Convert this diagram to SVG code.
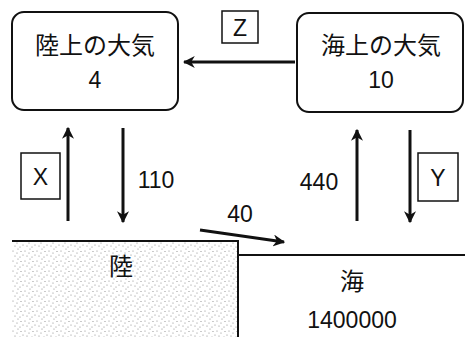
<svg xmlns="http://www.w3.org/2000/svg" width="465" height="337" viewBox="0 0 465 337">
<style>
.t{font-family:"Liberation Sans","Noto Sans CJK JP",sans-serif;fill:#111;text-anchor:middle}
.box{fill:#fff;stroke:#111;stroke-width:2}
.lab{fill:#fff;stroke:#111;stroke-width:1.5}
.arr{stroke:#111;stroke-width:3;fill:none;marker-end:url(#ah)}
.edge{stroke:#111;stroke-width:2;fill:none}
</style>
<defs>
<marker id="ah" viewBox="0 0 10 10" refX="9" refY="5" markerWidth="4" markerHeight="4" orient="auto" markerUnits="strokeWidth">
<path d="M0,0 L10,5 L0,10 L3,5 z" fill="#111"/>
</marker>
<pattern id="dots" width="12" height="10" patternUnits="userSpaceOnUse">
<rect width="12" height="10" fill="#fff"/>
<circle cx="1" cy="1" r="0.6" fill="#888"/>
<circle cx="5" cy="3" r="0.6" fill="#888"/>
<circle cx="9" cy="1.5" r="0.6" fill="#888"/>
<circle cx="3" cy="6" r="0.6" fill="#888"/>
<circle cx="8" cy="7" r="0.6" fill="#888"/>
<circle cx="11" cy="5" r="0.6" fill="#888"/>
<circle cx="6" cy="9" r="0.6" fill="#888"/>
</pattern>
</defs>
<g id="land-atm">
<rect class="box" x="12" y="12" width="166" height="98" rx="12"/>
<text class="t" x="95" y="54" font-size="24">陸上の大気</text>
<text class="t" x="95" y="88" font-size="23">4</text>
</g>
<g id="sea-atm">
<rect class="box" x="297" y="13" width="166" height="99" rx="12"/>
<text class="t" x="381" y="54" font-size="24">海上の大気</text>
<text class="t" x="381" y="88" font-size="23">10</text>
</g>
<g id="land">
<rect x="12" y="241" width="226" height="96" fill="url(#dots)"/>
<path class="edge" d="M12,241 H238 V337"/>
<text class="t" x="121" y="275" font-size="24">陸</text>
</g>
<g id="sea">
<path class="edge" d="M238,255 H465"/>
<text class="t" x="352" y="290" font-size="24">海</text>
<text class="t" x="352" y="328" font-size="23">1400000</text>
</g>
<g id="connectors">
<line class="arr" x1="295" y1="62" x2="184" y2="62"/>
<line class="arr" x1="68" y1="221" x2="68" y2="128"/>
<line class="arr" x1="123" y1="128" x2="123" y2="222"/>
<line class="arr" x1="357" y1="221" x2="357" y2="130"/>
<line class="arr" x1="410" y1="130" x2="410" y2="222"/>
<line class="arr" x1="200" y1="230" x2="284" y2="242"/>
</g>
<g id="labels">
<rect class="lab" x="222" y="11" width="36" height="32"/>
<text class="t" x="240" y="36" font-size="23">Z</text>
<rect class="lab" x="21" y="153" width="39" height="46"/>
<text class="t" x="40.5" y="185" font-size="23">X</text>
<rect class="lab" x="418" y="153" width="40" height="48"/>
<text class="t" x="438" y="186" font-size="23">Y</text>
<text class="t" x="156" y="188" font-size="23">110</text>
<text class="t" x="319" y="190" font-size="23">440</text>
<text class="t" x="240" y="222" font-size="23">40</text>
</g>
</svg>
